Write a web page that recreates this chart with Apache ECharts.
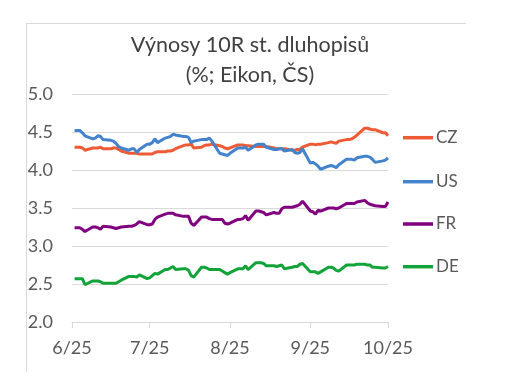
<!DOCTYPE html>
<html>
<head>
<meta charset="utf-8">
<script src="https://cdn.jsdelivr.net/npm/echarts@6/dist/echarts.min.js"></script>
<style>html,body{margin:0;padding:0;background:#fff}#c{width:508px;height:386px}</style>
</head>
<body>
<div id="c"></div>
<script>
const titleLines = ['Výnosy 10R st. dluhopisů', '(%; Eikon, ČS)'];
const seriesNames = ['CZ', 'US', 'FR', 'DE'];
const yTicks = [2.0, 2.5, 3.0, 3.5, 4.0, 4.5, 5.0];
const dates = [
 '2025-06-02','2025-06-03','2025-06-04','2025-06-05','2025-06-06',
 '2025-06-09','2025-06-10','2025-06-11','2025-06-12','2025-06-13',
 '2025-06-16','2025-06-17','2025-06-18','2025-06-19','2025-06-20',
 '2025-06-23','2025-06-24','2025-06-25','2025-06-26','2025-06-27',
 '2025-06-30','2025-07-01','2025-07-02','2025-07-03','2025-07-04',
 '2025-07-07','2025-07-08','2025-07-09','2025-07-10','2025-07-11',
 '2025-07-14','2025-07-15','2025-07-16','2025-07-17','2025-07-18',
 '2025-07-21','2025-07-22','2025-07-23','2025-07-24','2025-07-25',
 '2025-07-28','2025-07-29','2025-07-30','2025-07-31','2025-08-01',
 '2025-08-04','2025-08-05','2025-08-06','2025-08-07','2025-08-08',
 '2025-08-11','2025-08-12','2025-08-13','2025-08-14','2025-08-15',
 '2025-08-18','2025-08-19','2025-08-20','2025-08-21','2025-08-22',
 '2025-08-25','2025-08-26','2025-08-27','2025-08-28','2025-08-29',
 '2025-09-01','2025-09-02','2025-09-03','2025-09-04','2025-09-05',
 '2025-09-08','2025-09-09','2025-09-10','2025-09-11','2025-09-12',
 '2025-09-15','2025-09-16','2025-09-17','2025-09-18','2025-09-19',
 '2025-09-22','2025-09-23','2025-09-24','2025-09-25','2025-09-26',
 '2025-09-29','2025-09-30','2025-10-01'
];
const cz = [
 4.30,4.30,4.30,4.29,4.26, 4.29,4.29,4.29,4.30,4.28, 4.28,4.29,4.29,4.27,4.25,
 4.22,4.22,4.22,4.22,4.21, 4.21,4.21,4.21,4.23,4.24, 4.24,4.25,4.25,4.26,4.28,
 4.32,4.33,4.33,4.34,4.29, 4.30,4.32,4.33,4.33,4.34, 4.32,4.31,4.29,4.28,4.29,
 4.33,4.33,4.33,4.32,4.32, 4.31,4.31,4.31,4.31,4.31, 4.29,4.28,4.28,4.28,4.28,
 4.26,4.26,4.27,4.27,4.30, 4.34,4.34,4.33,4.34,4.34, 4.36,4.37,4.36,4.35,4.38,
 4.40,4.40,4.41,4.43,4.46, 4.55,4.55,4.54,4.53,4.53, 4.49,4.49,4.45
];
const us = [
 4.52,4.52,4.52,4.49,4.45, 4.41,4.42,4.45,4.44,4.40, 4.39,4.38,4.35,4.31,4.29,
 4.26,4.28,4.28,4.23,4.27, 4.34,4.34,4.36,4.41,4.36, 4.42,4.43,4.44,4.47,4.46,
 4.44,4.44,4.43,4.36,4.38, 4.40,4.40,4.40,4.42,4.38, 4.22,4.21,4.20,4.19,4.22,
 4.29,4.29,4.29,4.30,4.26, 4.33,4.34,4.34,4.34,4.30, 4.27,4.27,4.28,4.28,4.25,
 4.27,4.23,4.22,4.23,4.28, 4.09,4.10,4.08,4.05,4.01, 4.05,4.06,4.05,4.03,4.07,
 4.14,4.14,4.14,4.13,4.16, 4.18,4.18,4.17,4.14,4.10, 4.12,4.13,4.16
];
const fr = [
 3.24,3.24,3.24,3.22,3.19, 3.25,3.25,3.24,3.22,3.26, 3.25,3.24,3.23,3.24,3.25,
 3.26,3.26,3.27,3.29,3.32, 3.28,3.28,3.29,3.35,3.38, 3.42,3.43,3.43,3.43,3.41,
 3.39,3.39,3.39,3.30,3.27, 3.38,3.38,3.38,3.36,3.35, 3.35,3.35,3.30,3.29,3.30,
 3.35,3.35,3.36,3.40,3.34, 3.46,3.46,3.45,3.44,3.41, 3.44,3.43,3.43,3.49,3.51,
 3.51,3.52,3.53,3.55,3.59, 3.46,3.45,3.42,3.47,3.46, 3.50,3.50,3.50,3.49,3.50,
 3.56,3.56,3.56,3.56,3.58, 3.60,3.57,3.55,3.54,3.53, 3.52,3.52,3.58
];
const de = [
 2.57,2.57,2.57,2.57,2.49, 2.54,2.54,2.54,2.53,2.51, 2.51,2.51,2.51,2.53,2.55,
 2.60,2.60,2.60,2.59,2.62, 2.57,2.58,2.61,2.64,2.63, 2.69,2.69,2.71,2.73,2.69,
 2.70,2.70,2.68,2.61,2.59, 2.72,2.72,2.71,2.69,2.69, 2.69,2.67,2.65,2.63,2.65,
 2.70,2.70,2.70,2.74,2.69, 2.78,2.78,2.78,2.77,2.74, 2.74,2.73,2.74,2.75,2.70,
 2.72,2.73,2.73,2.76,2.77, 2.66,2.66,2.66,2.64,2.66, 2.72,2.72,2.71,2.68,2.67,
 2.75,2.75,2.75,2.75,2.76, 2.76,2.75,2.75,2.72,2.72, 2.71,2.71,2.73
];
const colors = ['#EE5A36', '#4383CC', '#800080', '#12A43A'];
const values = [cz, us, fr, de];

const FONT = 'Lato';
const TXT = '#595959';
const GRID = '#D9D9D9';
const DAY = 24 * 3600 * 1000;

const chart = echarts.init(document.getElementById('c'), null, {renderer: 'canvas'});
const legendCenters = [137.7, 181.7, 224, 266.7];

chart.setOption({
  animation: false,
  color: colors,
  title: {
    text: titleLines.join('\n'),
    left: 245, top: 25, textAlign: 'center',
    textStyle: {fontFamily: FONT, fontSize: 21.5, fontWeight: 'normal', color: '#404040', lineHeight: 30}
  },
  graphic: [
    {type: 'line', shape: {x1: 26, y1: 23.5, x2: 466, y2: 23.5}, style: {stroke: GRID, lineWidth: 1}, silent: true},
    {type: 'line', shape: {x1: 26.5, y1: 23, x2: 26.5, y2: 372}, style: {stroke: GRID, lineWidth: 1}, silent: true}
  ],
  legend: seriesNames.map((n, i) => ({
    data: [n], orient: 'vertical', left: 403, top: legendCenters[i] - 10,
    icon: 'rect', itemWidth: 30, itemHeight: 3.5, itemGap: 0, padding: 0,
    textStyle: {fontFamily: FONT, fontSize: 17, color: TXT, lineHeight: 20, padding: [0,0,0,-2]}
  })),
  grid: {left: 72, right: 120, top: 94, bottom: 64, containLabel: false},
  xAxis: {
    type: 'time',
    min: '2025-06-01', max: '2025-10-01',
    splitNumber: 4, minInterval: 28 * DAY, maxInterval: 31 * DAY,
    axisLine: {show: true, lineStyle: {color: GRID, width: 1}},
    axisTick: {show: true, length: 6, lineStyle: {color: GRID}},
    splitLine: {show: false},
    axisLabel: {
      fontFamily: FONT, fontSize: 18, color: TXT, margin: 17,
      showMinLabel: true, showMaxLabel: true,
      formatter: function (v) { const d = new Date(v); return (d.getMonth() + 1) + '/' + String(d.getFullYear() % 100).padStart(2, '0'); }
    }
  },
  yAxis: {
    type: 'value', min: yTicks[0], max: yTicks[yTicks.length - 1], interval: 0.5,
    axisLine: {show: false}, axisTick: {show: false},
    splitLine: {lineStyle: {color: GRID, width: 1}},
    axisLabel: {fontFamily: FONT, fontSize: 18, color: TXT, margin: 19, formatter: v => v.toFixed(1)}
  },
  series: seriesNames.map((n, i) => ({
    name: n, type: 'line', symbol: 'none', smooth: false,
    lineStyle: {width: 3, color: colors[i]},
    itemStyle: {color: colors[i]},
    data: dates.map((d, k) => [d, values[i][k]])
  }))
});
</script>
</body>
</html>
